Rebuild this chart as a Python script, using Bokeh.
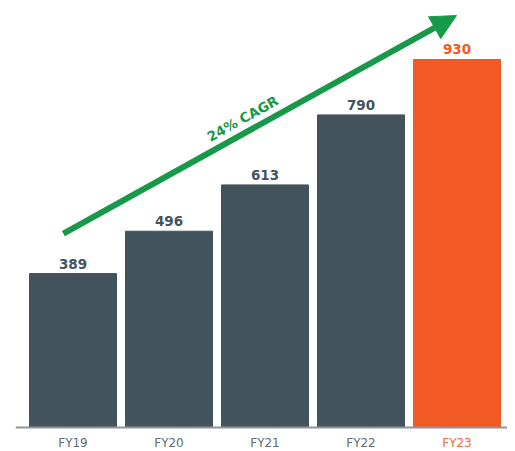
import math
from bokeh.plotting import figure
from bokeh.models import Range1d, ColumnDataSource, Arrow, NormalHead
from bokeh.core.properties import value
from bokeh.embed import file_html
from bokeh.resources import INLINE

categories = ["FY19", "FY20", "FY21", "FY22", "FY23"]
values = [389, 496, 613, 790, 930]
bar_colors = ["#43535c", "#43535c", "#43535c", "#43535c", "#f15a24"]
label_colors = ["#44545d", "#44545d", "#44545d", "#44545d", "#f15a24"]
tick_colors = ["#5f6b71", "#5f6b71", "#5f6b71", "#5f6b71", "#f26b3a"]
cagr_text = "24% CAGR"

xs = list(range(len(categories)))
green = "#17994a"

p = figure(width=507, height=451, output_backend="svg", toolbar_location=None,
           x_range=Range1d(-0.599, 4.526), y_range=Range1d(-60.65, 1079.1),
           min_border_left=15, min_border_right=0, min_border_top=0, min_border_bottom=0)
p.axis.visible = False
p.grid.visible = False
p.outline_line_color = None
p.background_fill_color = "white"
p.border_fill_color = "white"

src = ColumnDataSource(dict(x=xs, top=values, color=bar_colors, lc=label_colors,
                            lbl=[str(v) for v in values], cat=categories, tc=tick_colors,
                            ty=[-38.5] * len(xs)))
p.vbar(x="x", top="top", bottom=0, width=0.906, color="color", source=src)

# baseline
p.segment(x0=[-0.599], y0=[0], x1=[4.526], y1=[0], line_color="#8a9499", line_width=2)

# value labels
p.text(x="x", y="top", text="lbl", text_color="lc", source=src,
       text_font=value("DejaVu Sans"), text_font_style="bold", text_font_size="13.5px",
       text_align="center", text_baseline="bottom", y_offset=-5)

# category labels
p.text(x="x", y="ty", text="cat", text_color="tc", source=src,
       text_font=value("DejaVu Sans"), text_font_size="12px",
       text_align="center", text_baseline="middle")

# CAGR arrow
x_start, y_start = -0.10, values[0] + 101
x_end, y_end = 3.995, 1041
p.add_layout(Arrow(end=NormalHead(size=25, fill_color=green, line_color=green, line_width=1),
                   x_start=x_start, y_start=y_start, x_end=x_end, y_end=y_end,
                   line_color=green, line_width=6))

ang = math.radians(29.0)
p.text(x=[1.766], y=[781], text=[cagr_text], angle=ang, text_color=green,
       text_font=value("DejaVu Sans"), text_font_style="bold", text_font_size="13.5px",
       text_align="center", text_baseline="middle")

open("out.html", "w").write(file_html(p, INLINE))
